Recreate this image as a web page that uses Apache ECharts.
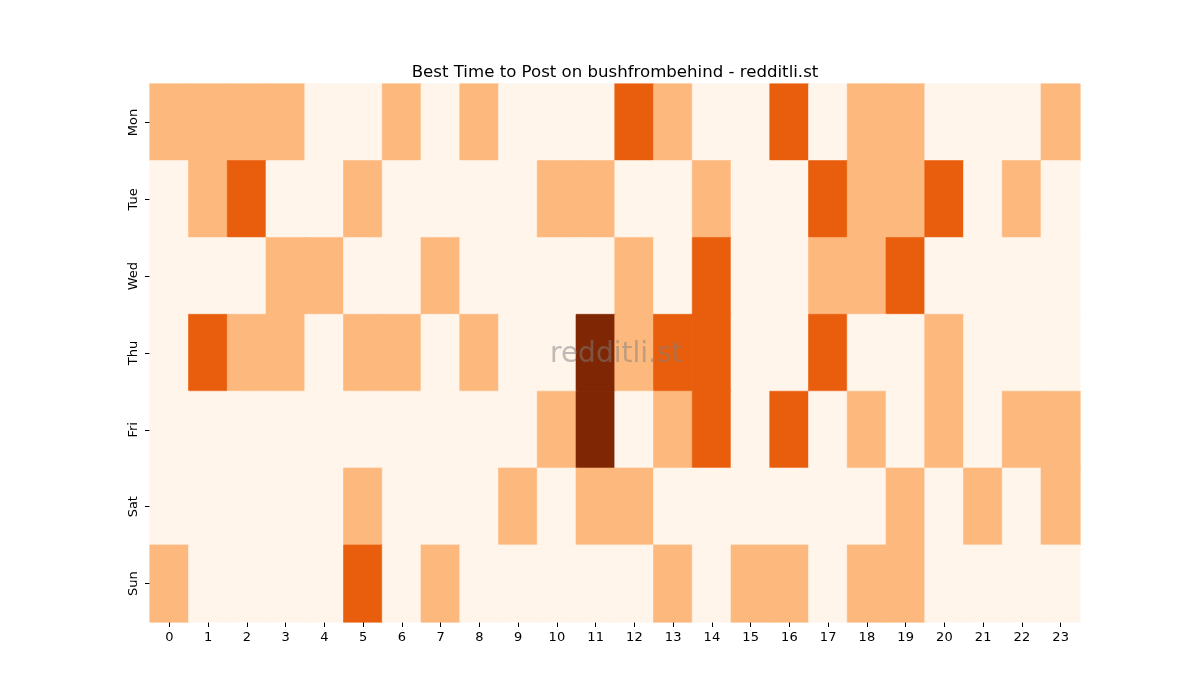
<!DOCTYPE html>
<html>
<head>
<meta charset="utf-8">
<title>Best Time to Post</title>
<script src="https://cdn.jsdelivr.net/npm/echarts@6/dist/echarts.min.js"></script>
<style>
  html, body { margin: 0; padding: 0; background: #fff; }
  #container { width: 1200px; height: 700px; }
</style>
</head>
<body>
<div id="container"></div>
<script>
var hours = ['0','1','2','3','4','5','6','7','8','9','10','11','12','13','14','15','16','17','18','19','20','21','22','23'];
var days = ['Mon', 'Tue', 'Wed', 'Thu', 'Fri', 'Sat', 'Sun'];

// one row per day, one value per hour
var mon = [1,1,1,1,0,0,1,0,1,0,0,0,2,1,0,0,2,0,1,1,0,0,0,1];
var tue = [0,1,2,0,0,1,0,0,0,0,1,1,0,0,1,0,0,2,1,1,2,0,1,0];
var wed = [0,0,0,1,1,0,0,1,0,0,0,0,1,0,2,0,0,1,1,2,0,0,0,0];
var thu = [0,2,1,1,0,1,1,0,1,0,0,3,1,2,2,0,0,2,0,0,1,0,0,0];
var fri = [0,0,0,0,0,0,0,0,0,0,1,3,0,1,2,0,2,0,1,0,1,0,1,1];
var sat = [0,0,0,0,0,1,0,0,0,1,0,1,1,0,0,0,0,0,0,1,0,1,0,1];
var sun = [1,0,0,0,0,2,0,1,0,0,0,0,0,1,0,1,1,0,1,1,0,0,0,0];

// Oranges colormap steps for values 0..3
var palette = ['#fff5eb', '#fdb97d', '#e95e0d', '#7f2704'];

var rows = [mon, tue, wed, thu, fri, sat, sun];
var cells = [];
rows.forEach(function (row, d) {
  row.forEach(function (v, h) {
    // border in the same colour hides the antialias seams between cells
    cells.push({
      value: [h, d, v],
      itemStyle: { color: palette[v], borderColor: palette[v], borderWidth: 0.6 }
    });
  });
});

var font = 'DejaVu Sans';
var myChart = echarts.init(document.getElementById('container'));
var option = {
  backgroundColor: '#ffffff',
  animation: false,
  title: {
    text: 'Best Time to Post on bushfrombehind - redditli.st',
    left: 610,
    textAlign: 'center',
    top: 59,
    textStyle: { fontFamily: font, fontSize: 16.6, fontWeight: 'normal', color: '#000' }
  },
  grid: { left: 150, right: 120, top: 84, bottom: 78 },
  xAxis: {
    type: 'category',
    data: hours,
    axisLine: { show: false },
    axisTick: { show: true, alignWithLabel: true, length: 5, lineStyle: { color: '#000' } },
    axisLabel: { fontFamily: font, fontSize: 13, color: '#000', margin: 9 },
    splitLine: { show: false }
  },
  yAxis: {
    type: 'category',
    data: days,
    inverse: true,
    axisLine: { show: false },
    axisTick: { show: true, alignWithLabel: true, length: 5, lineStyle: { color: '#000' } },
    axisLabel: { fontFamily: font, fontSize: 13, color: '#000', rotate: 90, margin: 10 },
    splitLine: { show: false }
  },
  graphic: [{
    type: 'text',
    left: 550,
    top: 341,
    z: 100,
    style: {
      text: 'redditli.st',
      fontFamily: font,
      fontSize: 28,
      fill: 'rgba(128,128,128,0.5)'
    }
  }],
  series: [{
    type: 'heatmap',
    data: cells,
    emphasis: { disabled: true }
  }]
};
myChart.setOption(option);
</script>
</body>
</html>
